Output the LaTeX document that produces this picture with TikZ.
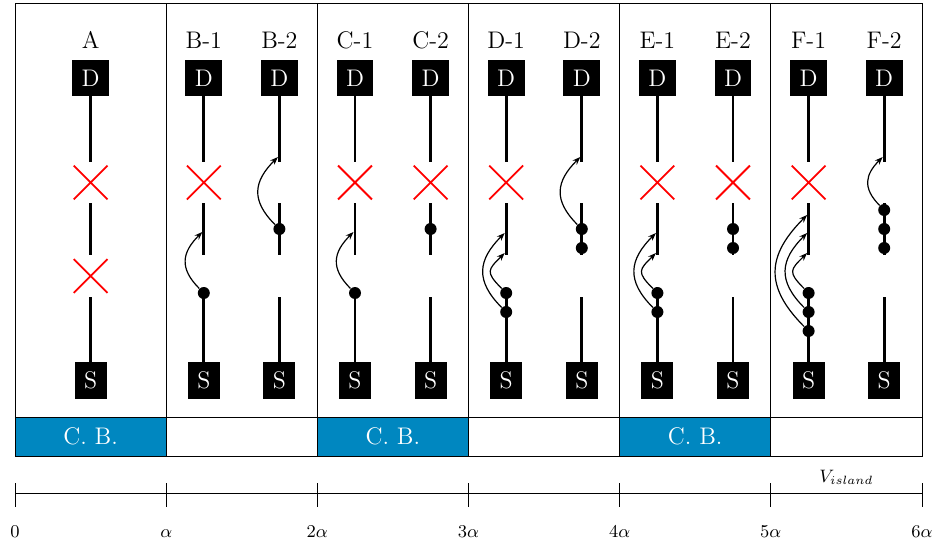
\documentclass[tikz,border=0pt]{standalone}
\usetikzlibrary{arrows.meta,shapes.misc}
\definecolor{cbblue}{RGB}{0,135,192}
\tikzset{
  lab/.style={font=\large, inner sep=0pt},
  term/.style={fill=black, text=white, font=\large, inner sep=4.7pt},
  wire/.style={line width=1.4pt},
  dotn/.style={circle, fill=black, inner sep=0pt, minimum size=6pt},
  xmark/.style={cross out, draw=red, line width=0.9pt, inner sep=0pt, minimum size=16pt},
  arr/.style={-{Stealth[length=4pt,width=3pt]}, line width=0.6pt, out=135, in=225, looseness=1.3},
  frame/.style={line width=0.5pt},
  cbbox/.style={fill=cbblue, draw=black, line width=0.5pt},
  cbtext/.style={text=white, font=\large, inner sep=0pt},
  axlab/.style={font=\small, inner sep=0pt, anchor=base}
}
% #1 name, #2 x, #3 label
\newcommand{\mkcol}[3]{%
  \node[lab] (#1-l) at (#2,-40) {#3};
  \node[term] (#1-D) at (#2,-78) {D};
  \node[term] (#1-S) at (#2,-380.5) {S};
  \coordinate (#1-a) at (#2,-162);
  \coordinate (#1-b) at (#2,-203);
  \coordinate (#1-c) at (#2,-255);
  \coordinate (#1-d) at (#2,-297);
  \draw[wire] (#1-D) -- (#1-a);
  \draw[wire] (#1-b) -- (#1-c);
  \draw[wire] (#1-d) -- (#1-S);
}
\newcommand{\xgapone}[2]{\node[xmark] (#1-x1) at (#2,-182.5) {};}
\newcommand{\dotat}[3]{\node[dotn] (#1) at (#2,-#3) {};}
\newcommand{\tgt}[3]{\coordinate (#1) at ({#2-1.5},-#3);}

\begin{document}
\begin{tikzpicture}[x=0.5pt,y=0.5pt]
\useasboundingbox (0,0) rectangle (939,-546);

% panel frames
\draw[frame] (15,-3) rectangle (922,-417);
\foreach \bx in {166.2,317.3,468.5,619.7,770.8}{
  \draw[frame] (\bx,-3) -- (\bx,-417);
}

% C. B. row
\draw[cbbox] (15,-417) rectangle (166.2,-456);
\draw[cbbox] (317.3,-417) rectangle (468.5,-456);
\draw[cbbox] (619.7,-417) rectangle (770.8,-456);
\draw[frame] (15,-417) rectangle (922,-456);
\foreach \bx in {166.2,317.3,468.5,619.7,770.8}{
  \draw[frame] (\bx,-417) -- (\bx,-456);
}
\node[cbtext] (cb1) at (90.6,-436.5) {C. B.};
\node[cbtext] (cb2) at (392.9,-436.5) {C. B.};
\node[cbtext] (cb3) at (695.2,-436.5) {C. B.};

% columns
\mkcol{A}{90.6}{A}
\mkcol{B1}{203.8}{B-1}
\mkcol{B2}{279.4}{B-2}
\mkcol{C1}{355}{C-1}
\mkcol{C2}{430.6}{C-2}
\mkcol{D1}{506.2}{D-1}
\mkcol{D2}{581.8}{D-2}
\mkcol{E1}{657.4}{E-1}
\mkcol{E2}{733}{E-2}
\mkcol{F1}{808.6}{F-1}
\mkcol{F2}{884.2}{F-2}

% A
\xgapone{A}{90.6}
\node[xmark] (A-x2) at (90.6,-276) {};

% B-1
\xgapone{B1}{203.8}
\dotat{B1-p1}{203.8}{293}
\tgt{B1-t1}{203.8}{232}
\draw[arr] (B1-p1) to (B1-t1);

% B-2
\dotat{B2-p1}{279.4}{229}
\tgt{B2-t1}{279.4}{157}
\draw[arr] (B2-p1) to (B2-t1);

% C-1
\xgapone{C1}{355}
\dotat{C1-p1}{355}{293}
\tgt{C1-t1}{355}{232}
\draw[arr] (C1-p1) to (C1-t1);

% C-2
\xgapone{C2}{430.6}
\dotat{C2-p1}{430.6}{229}

% D-1
\xgapone{D1}{506.2}
\dotat{D1-p1}{506.2}{293}
\dotat{D1-p2}{506.2}{312}
\tgt{D1-t1}{506.2}{253}
\tgt{D1-t2}{506.2}{233}
\draw[arr] (D1-p1) to[looseness=1.7] (D1-t1);
\draw[arr] (D1-p2) to (D1-t2);

% D-2
\dotat{D2-p1}{581.8}{229}
\dotat{D2-p2}{581.8}{248}
\tgt{D2-t1}{581.8}{157}
\draw[arr] (D2-p1) to (D2-t1);

% E-1
\xgapone{E1}{657.4}
\dotat{E1-p1}{657.4}{293}
\dotat{E1-p2}{657.4}{312}
\tgt{E1-t1}{657.4}{253}
\tgt{E1-t2}{657.4}{233}
\draw[arr] (E1-p1) to[looseness=1.7] (E1-t1);
\draw[arr] (E1-p2) to (E1-t2);

% E-2
\xgapone{E2}{733}
\dotat{E2-p1}{733}{229}
\dotat{E2-p2}{733}{248}

% F-1
\xgapone{F1}{808.6}
\dotat{F1-p1}{808.6}{293}
\dotat{F1-p2}{808.6}{312}
\dotat{F1-p3}{808.6}{331}
\tgt{F1-t1}{808.6}{253}
\tgt{F1-t2}{808.6}{233}
\tgt{F1-t3}{808.6}{215}
\draw[arr] (F1-p1) to[looseness=1.7] (F1-t1);
\draw[arr] (F1-p2) to (F1-t2);
\draw[arr] (F1-p3) to (F1-t3);

% F-2
\dotat{F2-p1}{884.2}{210}
\dotat{F2-p2}{884.2}{229}
\dotat{F2-p3}{884.2}{248}
\tgt{F2-t1}{884.2}{157}
\draw[arr] (F2-p1) to (F2-t1);

% axis
\coordinate (ax0) at (15,-493);
\coordinate (ax6) at (922,-493);
\draw[frame] (ax0) -- (ax6);
\foreach \bx in {15,166.2,317.3,468.5,619.7,770.8,922}{
  \draw[frame] (\bx,-483) -- (\bx,-507);
}
\node[axlab] (l0) at (15,-537) {$0$};
\node[axlab] (l1) at (166.2,-537) {$\alpha$};
\node[axlab] (l2) at (317.3,-537) {$2\alpha$};
\node[axlab] (l3) at (468.5,-537) {$3\alpha$};
\node[axlab] (l4) at (619.7,-537) {$4\alpha$};
\node[axlab] (l5) at (770.8,-537) {$5\alpha$};
\node[axlab] (l6) at (922,-537) {$6\alpha$};
\node[font=\small, inner sep=0pt] (vis) at (846.4,-477) {$V_{island}$};
\end{tikzpicture}
\end{document}
